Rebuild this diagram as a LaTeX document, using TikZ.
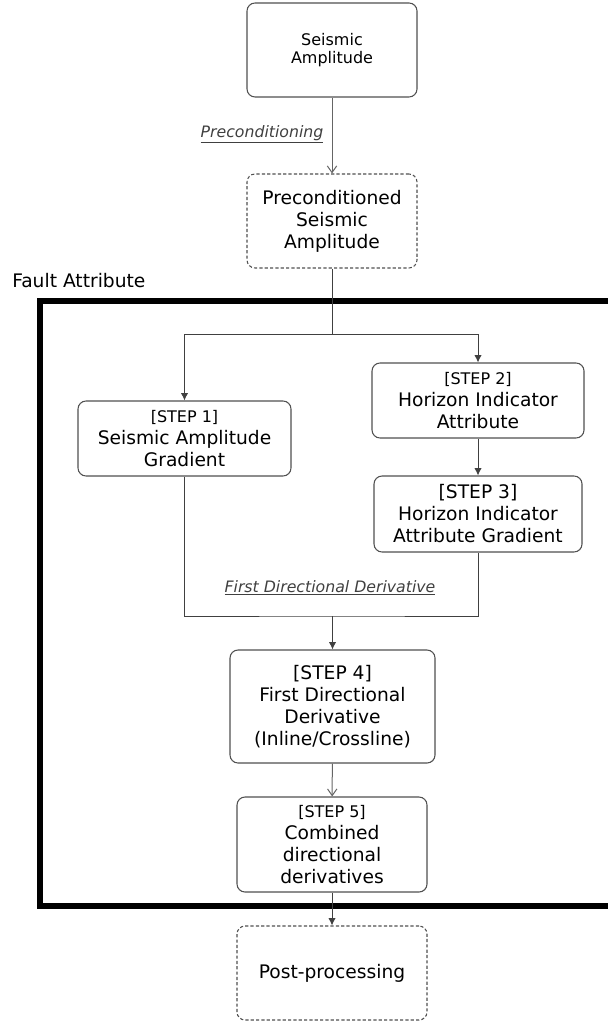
\documentclass[tikz,border=0pt]{standalone}
\usepackage{fontspec}
\setmainfont{DejaVu Sans}
\usetikzlibrary{arrows.meta}
\definecolor{bord}{HTML}{505050}
\definecolor{conn}{HTML}{404040}
\definecolor{lightconn}{HTML}{656565}
\definecolor{lab}{HTML}{404040}
\begin{document}
\begin{tikzpicture}[x=0.75pt,y=-0.75pt,
  box/.style={draw=bord, line width=0.8pt, rounded corners=6pt, align=center, inner sep=0pt, fill=white,
    font=\fontsize{14pt}{16.5pt}\selectfont},
  dbox/.style={box, dash pattern=on 2.4pt off 1.6pt},
  lbl/.style={text=lab, font=\fontsize{11.8pt}{14pt}\selectfont\itshape, inner sep=0pt},
  link/.style={draw=conn, line width=0.75pt},
  farrow/.style={link, -{Latex[length=5.5pt,width=5.5pt]}},
  oarrow/.style={draw=lightconn, line width=0.75pt, -{Straight Barb[length=5pt,width=7pt]}},
  frame/.style={line width=4.8pt, black}
]
\useasboundingbox (0,0) rectangle (607,1023);

% Fault Attribute frame (right side runs off the picture)
\draw[frame] (660,301) -- (40,301) -- (40,906) -- (660,906);
\node[anchor=west, inner sep=0pt, font=\fontsize{14pt}{16.5pt}\selectfont] (fa) at (12,281) {Fault Attribute};

% nodes
\node[box, minimum width=127.5pt, minimum height=70.5pt, font=\fontsize{12pt}{13.8pt}\selectfont] (top) at (332,50) {Seismic\\Amplitude};
\node[dbox, minimum width=127.5pt, minimum height=70.5pt] (pre) at (332,221) {Preconditioned\\Seismic\\Amplitude};
\node[box, minimum width=159.75pt, minimum height=56.25pt] (s1) at (184.5,438.5) {{\fontsize{12pt}{16.5pt}\selectfont [STEP 1]}\\Seismic Amplitude\\Gradient};
\node[box, minimum width=159pt, minimum height=56.25pt] (s2) at (478,400.5) {{\fontsize{12pt}{16.5pt}\selectfont [STEP 2]}\\Horizon Indicator\\Attribute};
\node[box, minimum width=156pt, minimum height=57pt] (s3) at (478,514) {[STEP 3]\\Horizon Indicator\\Attribute Gradient};
\node[box, minimum width=153.75pt, minimum height=84.75pt] (s4) at (332.5,706.5) {[STEP 4]\\First Directional\\Derivative\\(Inline/Crossline)};
\node[box, minimum width=142.5pt, minimum height=71.25pt] (s5) at (332,844.5) {{\fontsize{12pt}{16.5pt}\selectfont [STEP 5]}\\Combined\\directional\\derivatives};
\node[dbox, minimum width=142.5pt, minimum height=70.5pt] (post) at (332,973) {Post-processing};

% labels
\node[lbl] (plab) at (262,134) {\underline{Preconditioning}};
\node[lbl] (flab) at (330,588) {\underline{First Directional Derivative}};

% connectors
\draw[oarrow] (top) -- (pre);
\coordinate (fork) at (332,334);
\draw[link] (pre.south) -- (fork);
\draw[farrow] (fork) -| (s1.north);
\draw[farrow] (fork) -| (s2.north);
\draw[farrow] (s2) -- (s3);
\coordinate (join) at (332.5,616);
\draw[link] (s1.south) |- (join) -| (s3.south);
\draw[farrow] (join) -- (s4.north);
\draw[oarrow] (s4) -- (s5);
\draw[farrow] (s5) -- (post);
\end{tikzpicture}
\end{document}
